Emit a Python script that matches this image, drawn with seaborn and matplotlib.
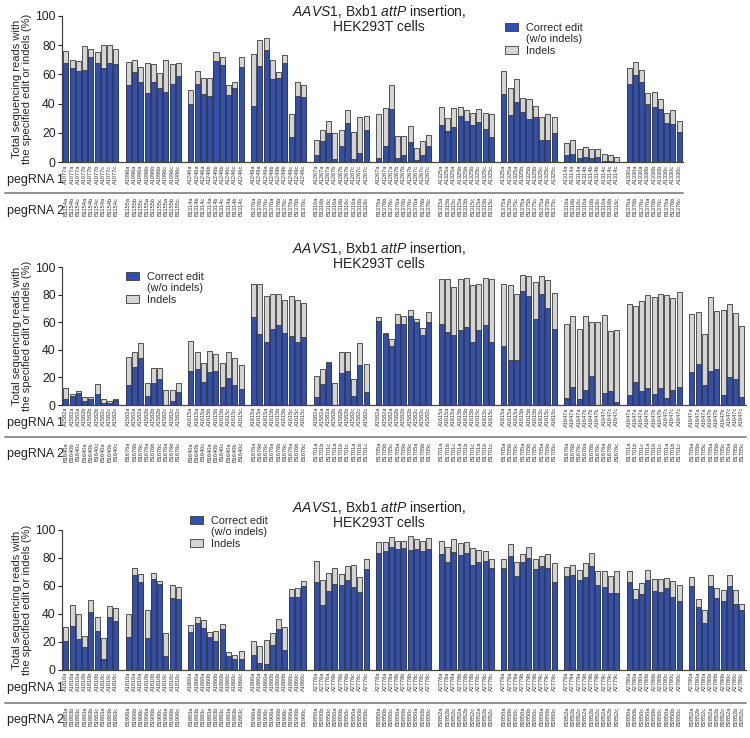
import numpy as np
import pandas as pd
import matplotlib
matplotlib.use("Agg")
import matplotlib.pyplot as plt
import matplotlib.patches as mpatches
from matplotlib.lines import Line2D
import seaborn as sns

sns.set_style("ticks")
plt.rcParams["font.family"] = ["Liberation Sans", "DejaVu Sans"]
plt.rcParams["mathtext.fontset"] = "custom"
plt.rcParams["mathtext.rm"] = "Liberation Sans"
plt.rcParams["mathtext.it"] = "Liberation Sans:italic"

W, H = 750, 738
BLUE = "#2f4fb5"
GRAY = "#d4d4d4"
EDGE = "#3a3a3a"
TXT = "#222222"

SUFFIX1 = ["a", "a", "a", "b", "b", "b", "c", "c", "c"]
SUFFIX2 = ["a", "b", "c", "a", "b", "c", "a", "b", "c"]

# ─── Panel 1 ─────────────────────────────────────────────────────────────────
P1_PEG1 = ["A1077", "A1096", "A1246", "A1249", "A1267", "A1267", "A1325", "A1325", "A1314", "A1330"]
P1_PEG2 = ["B1154", "B1155", "B1314", "B1376", "B1316", "B1376", "B1315", "B1375", "B1316", "B1376"]
P1_CORRECT = [
    [67.5, 64, 62, 63, 72, 67.5, 64, 67.5, 67],
    [52.7, 61.8, 55, 47, 54.8, 50.5, 48, 53.4, 59],
    [40, 53.4, 46.8, 45, 69, 66.6, 45.7, 50.7, 64.8],
    [38.4, 66, 76.6, 56.8, 57.5, 67.5, 17, 45, 44.5],
    [5, 14.8, 19.8, 2.3, 11, 27, 2, 6.6, 21.8],
    [3.2, 11, 36.4, 3.2, 5, 13.9, 1.4, 5, 11.4],
    [25.7, 21.6, 24, 31.8, 28.4, 25.5, 27.3, 23, 17.5],
    [46.4, 32.3, 41, 34.3, 29.3, 30.7, 15.5, 15.5, 20.2],
    [5.2, 6, 2.7, 3.9, 3, 3.6, 0.9, 0.7, 0.5],
    [53.4, 59.3, 55, 40, 38, 36.4, 26.6, 26, 21],
]
P1_INDELS = [
    [8.4, 6, 7, 16, 5, 7.5, 16, 12.5, 10],
    [15.9, 8.2, 10, 21, 12.2, 10.5, 22, 13.6, 9],
    [9, 9.1, 10.9, 12.7, 6.5, 5.4, 6.8, 4.3, 7.2],
    [35.6, 17.4, 8.4, 13.2, 4.3, 5.5, 15.7, 10, 8],
    [10.2, 7.2, 8.6, 17.5, 11, 8.7, 19, 24.4, 10],
    [29.5, 25.8, 16.3, 14.8, 13, 10.9, 8.6, 9.8, 7.5],
    [12.3, 8.9, 13.3, 6.2, 7.1, 7.9, 9.3, 10.9, 15.5],
    [15.9, 18.7, 15.6, 9.7, 13.7, 7.9, 15.2, 17.5, 10.8],
    [7.8, 9.2, 6.2, 6.8, 6.3, 5.3, 4.6, 4.1, 3.4],
    [10.6, 9.3, 8, 7, 9.7, 6.6, 6.8, 9.7, 7.4],
]

# ─── Panel 2 ─────────────────────────────────────────────────────────────────
P2_PEG1 = ["A1582", "A1582", "A1615", "A1615", "A1582", "A1582", "A1615", "A1615", "A1647", "A1647", "A1647"]
P2_PEG2 = ["B1640", "B1676", "B1640", "B1676", "B1701", "B1705", "B1701", "B1705", "B1676", "B1701", "B1705"]
P2_CORRECT = [
    [4.1, 6.5, 8.5, 2.9, 4.1, 8, 1.7, 1.2, 3.4],
    [14.5, 27.4, 34.4, 6.8, 16.2, 19.1, 0, 2.9, 9.2],
    [24.9, 25.9, 16.9, 24.2, 24.7, 13.3, 19.9, 14.5, 11.4],
    [63.9, 51.3, 46, 55.2, 58.1, 52.3, 50.4, 46, 49.2],
    [6, 15.5, 30.3, 0, 23, 24.7, 6.5, 29, 9.7],
    [61, 51.8, 43, 58.6, 58.8, 64.6, 60, 50.8, 60.5],
    [58.6, 53, 51, 54.7, 56.9, 46, 54.5, 57.9, 45.5],
    [42.6, 32.7, 32.7, 82.6, 79.4, 62.2, 80.4, 70.5, 55.2],
    [5.3, 13.3, 4.4, 10.7, 21, 0, 8.5, 10.4, 1.9],
    [7.5, 16.5, 10.2, 12.6, 7.7, 12.6, 5.1, 10.7, 13],
    [24, 29.5, 14.5, 24.5, 25.9, 7.3, 20.1, 18.9, 5.6],
]
P2_INDELS = [
    [8.5, 1.2, 1.4, 2.9, 1.9, 7.3, 2.7, 1.9, 1.2],
    [20.4, 11.3, 10.4, 9.4, 10.4, 7.5, 10.7, 7.8, 7],
    [21.8, 12.4, 13.4, 15, 12.6, 17, 18.4, 19.4, 17.6],
    [24.1, 36.7, 33.4, 25.7, 22.8, 23.7, 28.6, 30.5, 24.6],
    [15.3, 10.4, 1.2, 16.2, 15.7, 14, 12.4, 16.3, 19.8],
    [2.7, 0.3, 4.7, 7.4, 5.6, 4.2, 2.5, 5.4, 6.8],
    [33.2, 38.3, 34.5, 36.6, 35.6, 41.4, 33.2, 34.1, 45.8],
    [45.4, 54.5, 47.7, 11.8, 14.1, 27.4, 13.6, 20.5, 26.4],
    [53.3, 51.6, 50.6, 53.7, 39.5, 60, 56.5, 43.4, 52.3],
    [65.6, 55.2, 65.3, 67.1, 70.5, 68.3, 74.6, 67, 69],
    [42.3, 38.3, 36.8, 54.2, 42.6, 61.9, 53.3, 47.7, 51.8],
]

# ─── Panel 3 ─────────────────────────────────────────────────────────────────
P3_PEG1 = ["A1810", "A1810", "A1860", "A1860", "A2776", "A2778", "A2778", "A2779", "A2779", "A2780", "A2780"]
P3_PEG2 = ["B1883", "B1906", "B1883", "B1906", "B2850", "B2850", "B2852", "B2850", "B2852", "B2850", "B2852"]
P3_CORRECT = [
    [20.7, 31.4, 22.1, 16.7, 41.2, 28, 7.6, 37.9, 34.8],
    [23.3, 67.9, 63.1, 23.1, 65, 61.4, 10.2, 51.2, 51],
    [26.9, 33.3, 29.8, 23.3, 20.7, 29.3, 10, 7.9, 7.6],
    [10.5, 5, 4.3, 18.1, 29.3, 14.5, 51.9, 51.9, 60.2],
    [62.9, 46.7, 56.4, 61.7, 60.7, 64.3, 59.3, 55.5, 71.9],
    [83.8, 85, 87.6, 86.2, 86.9, 85.7, 86.4, 85.2, 86.4],
    [82.9, 77.1, 84, 81.9, 83.3, 75, 77.1, 78.1, 72.9],
    [72.9, 81.4, 67.1, 76.9, 80, 71.9, 74.3, 72.6, 62.6],
    [67.4, 67.9, 64.3, 66.7, 74, 60.5, 59.3, 54.8, 55],
    [62.9, 50.7, 54.3, 64.3, 56.7, 55.5, 58.8, 52.1, 49.5],
    [60.2, 44.8, 33.3, 60.2, 51.4, 49.3, 59.8, 47.4, 42.6],
]
P3_INDELS = [
    [10.3, 15, 17.7, 7.8, 8.8, 10, 15.5, 8.1, 9.2],
    [16.9, 5, 5.2, 19.8, 4, 2.2, 16, 9.5, 8],
    [5, 4.3, 5.9, 4.1, 7.4, 3.6, 3.1, 3.1, 6.2],
    [10.2, 12.1, 16.9, 8.3, 7.4, 16, 6, 6.9, 3.4],
    [14.7, 17.8, 12.9, 10.9, 7.6, 9.7, 15.5, 10.7, 7.6],
    [7.4, 6.7, 7.4, 6.2, 5.5, 10, 7.2, 6.9, 7.9],
    [9, 11, 9.6, 9.1, 7.9, 12.4, 8.9, 6.9, 6.4],
    [6.4, 8.4, 10.3, 6.2, 7.9, 7.4, 6.9, 10, 13.8],
    [5.9, 6.9, 7.4, 9.7, 9.3, 10, 11.2, 12.6, 16],
    [7.6, 6.9, 7.6, 7.1, 8.3, 9.3, 7.2, 11.7, 11.2],
    [6.5, 5.9, 9.8, 7.4, 7.2, 7.6, 8.3, 10, 4.5],
]

TITLE = r"$\it{AAVS1}$, Bxb1 $\it{attP}$ insertion," + "\nHEK293T cells"
YLABEL = "Total sequencing reads with\nthe specified edit or indels (%)"

# layout in pixels: axes top/bottom, title top, legend anchor, separator, row texts
LAYOUT = [
    dict(top=15.7, bot=162.3, title=3, leg=(505, 23), sep=193, row1=180, row2=211, lab2=197),
    dict(top=267.3, bot=405, title=240, leg=(126, 272), sep=437, row1=423, row2=454, lab2=442),
    dict(top=530, bot=670, title=499, leg=(190, 516), sep=703, row1=688, row2=720, lab2=707),
]
AX_LEFT = 62
PX_PER_UNIT = 6.26
TICK_FS = 4.1


def fy(y):
    return 1 - y / H


def build_frame(peg1, peg2, correct, indels):
    rows = []
    for g, (p1, p2) in enumerate(zip(peg1, peg2)):
        for i in range(9):
            c = correct[g][i]
            rows.append({
                "pos": g * 10 + i,
                "correct": c,
                "total": c + indels[g][i],
                "lab1": p1 + SUFFIX1[i],
                "lab2": p2 + SUFFIX2[i],
            })
    return pd.DataFrame(rows)


def draw_panel(fig, df, n_groups, lay):
    x0, x1 = -0.6, n_groups * 10 - 1.4
    width_px = (x1 - x0) * PX_PER_UNIT
    h_px = lay["bot"] - lay["top"]
    ax = fig.add_axes([AX_LEFT / W, fy(lay["bot"]), width_px / W, h_px / H])

    common = dict(x="pos", native_scale=True, width=0.8, errorbar=None,
                  saturation=1, edgecolor=EDGE, linewidth=0.6, ax=ax)
    sns.barplot(data=df, y="total", color=GRAY, **common)
    sns.barplot(data=df, y="correct", color=BLUE, **common)

    ax.set_xlim(x0, x1)
    ax.set_ylim(0, 100)
    ax.set_yticks(range(0, 101, 20))
    ax.set_xticks(df["pos"], labels=df["lab1"], rotation=90, fontsize=TICK_FS)
    ax.tick_params(axis="x", length=0, pad=1.5, colors="#333333")
    ax.tick_params(axis="y", labelsize=8.8, length=3, width=0.8, pad=1.5, colors=TXT)
    ax.set_xlabel("")
    ax.set_ylabel(YLABEL, fontsize=8, labelpad=2, linespacing=1.05)
    sns.despine(ax=ax)
    for s in ("left", "bottom"):
        ax.spines[s].set_linewidth(0.9)
        ax.spines[s].set_color("#444444")

    sec = ax.secondary_xaxis(-(lay["lab2"] - lay["bot"]) / h_px)
    sec.set_xticks(df["pos"], labels=df["lab2"], rotation=90, fontsize=TICK_FS)
    sec.tick_params(length=0, pad=0, colors="#333333")
    sec.spines["bottom"].set_visible(False)

    fig.add_artist(Line2D([5 / W, (AX_LEFT + width_px) / W], [fy(lay["sep"])] * 2,
                          color="#888888", lw=1.3))
    fig.text(7 / W, fy(lay["row1"]), "pegRNA 1", fontsize=9, va="center", color=TXT)
    fig.text(7 / W, fy(lay["row2"]), "pegRNA 2", fontsize=9, va="center", color=TXT)
    fig.text(379 / W, fy(lay["title"]), TITLE, ha="center", va="top",
             fontsize=10, linespacing=1.0, color=TXT)

    handles = [
        mpatches.Patch(facecolor=BLUE, edgecolor=EDGE, linewidth=0.6, label="Correct edit"),
        mpatches.Patch(facecolor="none", edgecolor="none", label="(w/o indels)"),
        mpatches.Patch(facecolor=GRAY, edgecolor=EDGE, linewidth=0.6, label="Indels"),
    ]
    lx, ly = lay["leg"]
    ax.legend(handles=handles, loc="upper left", bbox_to_anchor=(lx / W, fy(ly)),
              bbox_transform=fig.transFigure, frameon=False, fontsize=7.8,
              handlelength=1.2, handleheight=0.7, handletextpad=0.7,
              borderpad=0, borderaxespad=0, labelspacing=0.12)
    return ax


fig = plt.figure(figsize=(W / 100, H / 100), dpi=100)
panels = [
    (P1_PEG1, P1_PEG2, P1_CORRECT, P1_INDELS),
    (P2_PEG1, P2_PEG2, P2_CORRECT, P2_INDELS),
    (P3_PEG1, P3_PEG2, P3_CORRECT, P3_INDELS),
]
for (p1, p2, c, ind), lay in zip(panels, LAYOUT):
    df = build_frame(p1, p2, c, ind)
    draw_panel(fig, df, len(p1), lay)

fig.savefig("out.png", dpi=100, facecolor="white")
